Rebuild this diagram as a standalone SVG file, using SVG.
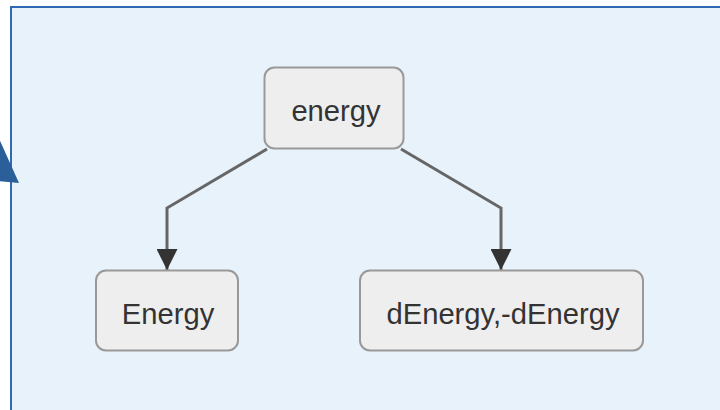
<svg xmlns="http://www.w3.org/2000/svg" width="720" height="410" viewBox="0 0 720 410">
  <style>
    .node rect { fill: #eeeeee; stroke: #999999; stroke-width: 2; }
    .node text { font-family: "Liberation Sans", Arial, sans-serif; font-size: 29.2px; fill: #333333; text-anchor: middle; }
    .edge { fill: none; stroke: #666666; stroke-width: 3; }
  </style>
  <defs>
    <marker id="arrow" viewBox="0 0 10 10" refX="10" refY="5" markerUnits="userSpaceOnUse" markerWidth="21" markerHeight="21" orient="auto">
      <path d="M0,0 L10,5 L0,10 Z" fill="#333333"/>
    </marker>
  </defs>

  <!-- background panel -->
  <rect x="11" y="7" width="730" height="420" fill="#e8f2fb" stroke="#2f6ab3" stroke-width="2"/>
  <!-- partial arrowhead entering the panel from the left -->
  <polygon points="-4,132 19,183 -12,180" fill="#2a5f9a"/>

  <g id="connectors">
    <polyline class="edge" points="267,149 167,208 167,270" marker-end="url(#arrow)"/>
    <polyline class="edge" points="401,149 501,208 501,270" marker-end="url(#arrow)"/>
  </g>

  <g id="node-energy" class="node">
    <rect x="264.5" y="67.5" width="139" height="81" rx="10"/>
    <text x="336" y="121">energy</text>
  </g>
  <g id="node-Energy" class="node">
    <rect x="96" y="270.5" width="142" height="80" rx="10"/>
    <text x="168" y="324">Energy</text>
  </g>
  <g id="node-dEnergy" class="node">
    <rect x="360" y="270.5" width="283" height="80" rx="10"/>
    <text x="503" y="324">dEnergy,-dEnergy</text>
  </g>
</svg>
